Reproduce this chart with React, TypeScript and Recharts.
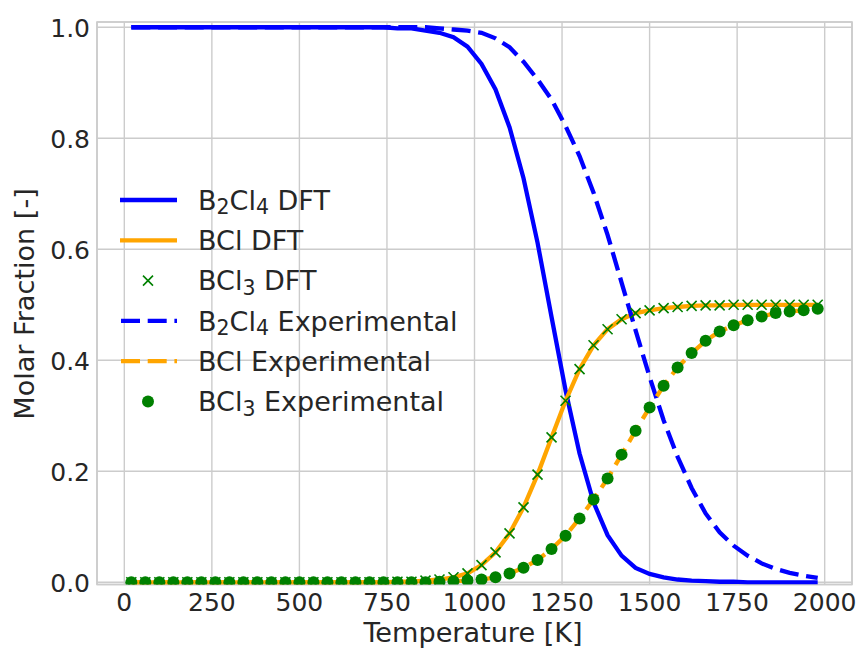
import React from 'react';
import { ComposedChart, Line, XAxis, YAxis, CartesianGrid, Legend, ReferenceArea } from 'recharts';

const temperatures = [
  20, 60, 100, 140, 180, 220, 260, 300, 340, 380,
  420, 460, 500, 540, 580, 620, 660, 700, 740, 780,
  820, 860, 900, 940, 980, 1020, 1060, 1100, 1140, 1180,
  1220, 1260, 1300, 1340, 1380, 1420, 1460, 1500, 1540, 1580,
  1620, 1660, 1700, 1740, 1780, 1820, 1860, 1900, 1940, 1980,
];

const b2cl4Dft = [
  1, 1, 1, 1, 1, 1, 1, 1, 1, 1,
  1, 1, 1, 1, 1, 1, 1, 1, 1, 0.998,
  0.998, 0.994, 0.99, 0.982, 0.965, 0.934, 0.888, 0.82, 0.728, 0.612,
  0.478, 0.346, 0.232, 0.144, 0.085, 0.048, 0.026, 0.015, 0.009, 0.005,
  0.003, 0.002, 0.001, 0.001, 0, 0, 0, 0, 0, 0,
];

const bclDft = [
  0, 0, 0, 0, 0, 0, 0, 0, 0, 0,
  0, 0, 0, 0, 0, 0, 0, 0, 0, 0.001,
  0.001, 0.003, 0.005, 0.009, 0.016, 0.031, 0.054, 0.088, 0.135, 0.194,
  0.261, 0.327, 0.384, 0.427, 0.456, 0.474, 0.485, 0.49, 0.494, 0.496,
  0.498, 0.499, 0.499, 0.5, 0.5, 0.5, 0.5, 0.5, 0.5, 0.5,
];

const bcl3Dft = [
  0, 0, 0, 0, 0, 0, 0, 0, 0, 0,
  0, 0, 0, 0, 0, 0, 0, 0, 0, 0.001,
  0.001, 0.003, 0.005, 0.009, 0.016, 0.031, 0.054, 0.088, 0.135, 0.194,
  0.261, 0.327, 0.384, 0.427, 0.456, 0.474, 0.485, 0.49, 0.494, 0.496,
  0.498, 0.499, 0.499, 0.5, 0.5, 0.5, 0.5, 0.5, 0.5, 0.5,
];

const b2cl4Exp = [
  1, 1, 1, 1, 1, 1, 1, 1, 1, 1,
  1, 1, 1, 1, 1, 1, 1, 1, 1, 1,
  1, 1, 0.998, 0.996, 0.994, 0.99, 0.98, 0.964, 0.938, 0.906,
  0.87, 0.822, 0.768, 0.702, 0.626, 0.54, 0.454, 0.37, 0.292, 0.226,
  0.17, 0.124, 0.09, 0.066, 0.048, 0.034, 0.024, 0.017, 0.012, 0.008,
];

const bclExp = [
  0, 0, 0, 0, 0, 0, 0, 0, 0, 0,
  0, 0, 0, 0, 0, 0, 0, 0, 0, 0,
  0, 0, 0.001, 0.002, 0.003, 0.005, 0.009, 0.016, 0.026, 0.04,
  0.06, 0.084, 0.115, 0.149, 0.187, 0.23, 0.273, 0.315, 0.354, 0.387,
  0.413, 0.435, 0.452, 0.463, 0.472, 0.479, 0.485, 0.488, 0.49, 0.493,
];

const bcl3Exp = [
  0, 0, 0, 0, 0, 0, 0, 0, 0, 0,
  0, 0, 0, 0, 0, 0, 0, 0, 0, 0,
  0, 0, 0.001, 0.002, 0.003, 0.005, 0.009, 0.016, 0.026, 0.04,
  0.06, 0.084, 0.115, 0.149, 0.187, 0.23, 0.273, 0.315, 0.354, 0.387,
  0.413, 0.435, 0.452, 0.463, 0.472, 0.479, 0.485, 0.488, 0.49, 0.493,
];

const xTicks = [0, 250, 500, 750, 1000, 1250, 1500, 1750, 2000];
const yTicks = [0, 0.2, 0.4, 0.6, 0.8, 1.0];
const yTickLabels = ['0.0', '0.2', '0.4', '0.6', '0.8', '1.0'];
const xLabel = 'Temperature [K]';
const yLabel = 'Molar Fraction [-]';

const data = temperatures.map((t, i) => ({
  t,
  b2cl4Dft: b2cl4Dft[i],
  bclDft: bclDft[i],
  bcl3Dft: bcl3Dft[i],
  b2cl4Exp: b2cl4Exp[i],
  bclExp: bclExp[i],
  bcl3Exp: bcl3Exp[i],
}));

const FONT = '"DejaVu Sans", Verdana, sans-serif';
const TEXT = '#262626';
const BLUE = '#0000ff';
const ORANGE = '#ffa500';
const GREEN = '#008000';
const GRID = '#cccccc';
const DASH = '19 7.7';
const LEG_FS = 27;
const SUB_FS = 20.5;
const SUB_DY = 4.5;

const XTick = (props: any) => (
  <text x={props.x} y={611} textAnchor="middle" fontFamily={FONT} fontSize={25} fill={TEXT}>
    {props.payload.value}
  </text>
);

const YTick = (props: any) => {
  const idx = yTicks.indexOf(props.payload.value);
  return (
    <text x={90} y={props.y + 10} textAnchor="end" fontFamily={FONT} fontSize={25} fill={TEXT}>
      {idx >= 0 ? yTickLabels[idx] : props.payload.value}
    </text>
  );
};

const XLabel = () => (
  <text x={473} y={642} textAnchor="middle" fontFamily={FONT} fontSize={27.1} fill={TEXT}>
    {xLabel}
  </text>
);

const YLabel = () => (
  <text
    x={34}
    y={304}
    textAnchor="middle"
    fontFamily={FONT}
    fontSize={27.1}
    fill={TEXT}
    transform="rotate(-90 34 304)"
  >
    {yLabel}
  </text>
);

const CrossDot = (props: any) => {
  const { cx, cy, index } = props;
  if (cx == null || cy == null) return <g key={`x${index}`} />;
  const s = 5;
  return (
    <path
      key={`x${index}`}
      d={`M${cx - s},${cy - s}L${cx + s},${cy + s}M${cx - s},${cy + s}L${cx + s},${cy - s}`}
      stroke={GREEN}
      strokeWidth={1.6}
      fill="none"
    />
  );
};

const CircleDot = (props: any) => {
  const { cx, cy, index } = props;
  if (cx == null || cy == null) return <g key={`c${index}`} />;
  return <circle key={`c${index}`} cx={cx} cy={cy} r={6} fill={GREEN} stroke="none" />;
};

const legendItems = [
  { kind: 'solid', color: BLUE, parts: ['B', '2', 'Cl', '4', ' DFT'] },
  { kind: 'solid', color: ORANGE, parts: ['BCl DFT'] },
  { kind: 'cross', color: GREEN, parts: ['BCl', '3', ' DFT'] },
  { kind: 'dash', color: BLUE, parts: ['B', '2', 'Cl', '4', ' Experimental'] },
  { kind: 'dash', color: ORANGE, parts: ['BCl Experimental'] },
  { kind: 'circle', color: GREEN, parts: ['BCl', '3', ' Experimental'] },
];

const LegendBox = () => {
  const rowStep = 40.3;
  const top = 22;
  return (
    <svg width={380} height={250} style={{ overflow: 'visible' }}>
      {legendItems.map((it, i) => {
        const cy = top + i * rowStep;
        let sample: React.ReactNode = null;
        if (it.kind === 'solid') {
          sample = <line x1={10} y1={cy} x2={67} y2={cy} stroke={it.color} strokeWidth={4.3} />;
        } else if (it.kind === 'dash') {
          sample = (
            <line x1={11} y1={cy} x2={67} y2={cy} stroke={it.color} strokeWidth={4.3} strokeDasharray={DASH} />
          );
        } else if (it.kind === 'cross') {
          sample = (
            <path
              d={`M${38 - 5},${cy - 5}L${38 + 5},${cy + 5}M${38 - 5},${cy + 5}L${38 + 5},${cy - 5}`}
              stroke={it.color}
              strokeWidth={1.6}
            />
          );
        } else {
          sample = <circle cx={38} cy={cy} r={6} fill={it.color} />;
        }
        const nodes: React.ReactNode[] = [];
        it.parts.forEach((p, j) => {
          const isSub = /^[0-9]$/.test(p);
          if (isSub) {
            nodes.push(
              <tspan key={j} fontSize={SUB_FS} dy={SUB_DY}>
                {p}
              </tspan>
            );
          } else {
            const prevSub = j > 0 && /^[0-9]$/.test(it.parts[j - 1]);
            nodes.push(
              <tspan key={j} dy={prevSub ? -SUB_DY : 0} fontSize={LEG_FS}>
                {p}
              </tspan>
            );
          }
        });
        return (
          <g key={i}>
            {sample}
            <text
              x={88}
              y={cy + 9.8}
              fontFamily={FONT}
              fontSize={LEG_FS}
              fill={TEXT}
              style={{ whiteSpace: 'pre' }}
            >
              {nodes}
            </text>
          </g>
        );
      })}
    </svg>
  );
};

export default function App() {
  return (
    <div style={{ position: 'absolute', left: 0, top: 0, width: 858, height: 648, background: '#fff' }}>
      <ComposedChart
        width={858}
        height={648}
        data={data}
        margin={{ top: 22, right: 6, bottom: 0, left: 0 }}
        style={{ fontFamily: FONT }}
      >
        <CartesianGrid stroke={GRID} strokeWidth={1.4} />
        <XAxis
          dataKey="t"
          type="number"
          domain={[-78, 2078]}
          ticks={xTicks}
          interval={0}
          allowDataOverflow
          height={63.5}
          tickLine={false}
          axisLine={false}
          tick={XTick}
          label={<XLabel />}
        />
        <YAxis
          type="number"
          domain={[-0.004, 1.0095]}
          ticks={yTicks}
          interval={0}
          allowDataOverflow
          width={97}
          tickLine={false}
          axisLine={false}
          tick={YTick}
          label={<YLabel />}
        />
        <ReferenceArea
          x1={-78}
          x2={2078}
          y1={-0.004}
          y2={1.0095}
          fill="none"
          fillOpacity={0}
          stroke={GRID}
          strokeWidth={1.7}
        />
        <Line
          type="linear"
          dataKey="b2cl4Dft"
          name="B2Cl4 DFT"
          stroke={BLUE}
          strokeWidth={4.3}
          dot={false}
          activeDot={false}
          isAnimationActive={false}
        />
        <Line
          type="linear"
          dataKey="bclDft"
          name="BCl DFT"
          stroke={ORANGE}
          strokeWidth={4.3}
          dot={false}
          activeDot={false}
          isAnimationActive={false}
        />
        <Line
          type="linear"
          dataKey="bcl3Dft"
          name="BCl3 DFT"
          stroke="none"
          strokeWidth={0}
          dot={CrossDot}
          activeDot={false}
          isAnimationActive={false}
        />
        <Line
          type="linear"
          dataKey="b2cl4Exp"
          name="B2Cl4 Experimental"
          stroke={BLUE}
          strokeWidth={4.3}
          strokeDasharray={DASH}
          dot={false}
          activeDot={false}
          isAnimationActive={false}
        />
        <Line
          type="linear"
          dataKey="bclExp"
          name="BCl Experimental"
          stroke={ORANGE}
          strokeWidth={4.3}
          strokeDasharray={DASH}
          dot={false}
          activeDot={false}
          isAnimationActive={false}
        />
        <Line
          type="linear"
          dataKey="bcl3Exp"
          name="BCl3 Experimental"
          stroke="none"
          strokeWidth={0}
          dot={CircleDot}
          activeDot={false}
          isAnimationActive={false}
        />
        <Legend
          layout="vertical"
          align="center"
          verticalAlign="middle"
          wrapperStyle={{ position: 'absolute', left: 110, top: 178, width: 380, height: 250 }}
          content={() => <LegendBox />}
        />
      </ComposedChart>
    </div>
  );
}
